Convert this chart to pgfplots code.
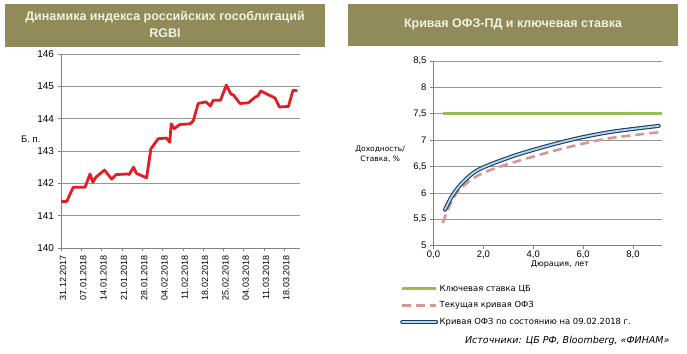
\documentclass[border=0pt]{standalone}
\usepackage{fontspec}
\setmainfont{Liberation Sans}
\newfontfamily\dejavu{DejaVu Sans}
\usepackage{pgfplots}
\pgfplotsset{compat=1.18}
\definecolor{olivebar}{RGB}{145,139,90}
\definecolor{titletext}{RGB}{242,240,224}
\definecolor{redline}{RGB}{226,30,36}
\definecolor{gridgray}{RGB}{150,150,150}
\definecolor{axisgray}{RGB}{130,130,130}
\definecolor{keygreen}{RGB}{155,187,89}
\definecolor{pinkdash}{RGB}{214,150,150}
\definecolor{navy}{RGB}{25,60,100}
\definecolor{lightblue}{RGB}{175,215,238}

\pgfplotstableread{
day val
0 141.44
2 141.44
4.2 141.88
8.3 141.88
10 142.29
11 142.03
12 142.19
15 142.41
17.5 142.13
19 142.27
23 142.29
23.5 142.27
25 142.50
26 142.31
29.5 142.17
31 143.07
33.5 143.38
36.4 143.40
37.5 143.27
38 143.84
39 143.69
41 143.82
44.5 143.84
45.6 143.93
47.3 144.47
50 144.52
51.5 144.39
52.5 144.57
55 144.57
57 145.04
58.6 144.76
59.5 144.73
61.7 144.47
64.6 144.49
67 144.67
67.8 144.70
68.9 144.86
71 144.76
73.8 144.64
75.3 144.36
78.4 144.38
80 144.88
81.5 144.86
}\rgbi

\pgfplotstableread{
x y
0.46 5.68
0.73 5.93
1.13 6.18
1.80 6.44
3.14 6.69
4.48 6.88
5.82 7.04
7.16 7.16
9.03 7.27
}\oldcurve

\pgfplotstableread{
x y
0.37 5.43
0.63 5.74
1.03 6.06
1.82 6.34
2.87 6.53
4.46 6.75
5.78 6.91
7.10 7.04
9.05 7.15
}\curcurve

\pgfplotstableread{
x y
0.37 7.5
9.15 7.5
}\keyrate

\begin{document}
\begin{tikzpicture}
\path[draw=none] (0pt,0pt) rectangle (687pt,353pt);
% title bars
\fill[olivebar] (5pt,349pt) rectangle (325pt,306pt);
\node[text=titletext,font=\fontsize{12.5}{17}\selectfont\bfseries,align=center] at (165pt,328.5pt) {Динамика индекса российских гособлигаций\\RGBI};
\fill[olivebar] (348pt,349pt) rectangle (678pt,307pt);
\node[text=titletext,font=\fontsize{12.5}{15}\selectfont\bfseries] at (513pt,329pt) {Кривая ОФЗ-ПД и ключевая ставка};

\begin{axis}[
  at={(61pt,105pt)}, anchor=south west,
  scale only axis, width=239pt, height=194pt,
  xmin=0, xmax=82.4, ymin=140, ymax=146,
  axis lines*=left,
  axis line style={axisgray, line width=0.6pt},
  ymajorgrids, grid style={gridgray, line width=0.6pt},
  tick align=outside, major tick length=3.5pt,
  tick style={axisgray, line width=0.6pt},
  xtick={0,7,...,77},
  xticklabels={31.12.2017,07.01.2018,14.01.2018,21.01.2018,28.01.2018,04.02.2018,11.02.2018,18.02.2018,25.02.2018,04.03.2018,11.03.2018,18.03.2018},
  xticklabel style={rotate=90, anchor=east, yshift=-2pt, font=\fontsize{9}{10}\selectfont},
  ytick={140,141,...,146},
  yticklabel style={font=\fontsize{10}{12}\selectfont},
  /pgf/number format/assume math mode=true,
  /pgf/number format/1000 sep={},
  ylabel={Б. п.},
  ylabel style={rotate=-90, at={(axis description cs:-0.126,0.562)}, anchor=center, font=\fontsize{9.5}{11}\selectfont},
  clip=false,
]
\addplot[redline, line width=2.8pt, line join=round] table[x=day,y=val] {\rgbi};
\end{axis}

\begin{axis}[
  at={(433.5pt,107.3pt)}, anchor=south west,
  scale only axis, width=228.2pt, height=184.7pt,
  xmin=0, xmax=9.15, ymin=5, ymax=8.5,
  axis lines*=left,
  axis line style={axisgray, line width=0.6pt},
  ymajorgrids, grid style={gridgray, line width=0.6pt},
  tick align=outside, major tick length=3.5pt,
  tick style={axisgray, line width=0.6pt},
  xtick={0,2,4,6,8},
  ytick={5,5.5,...,8.5},
  /pgf/number format/assume math mode=true,
  /pgf/number format/use comma,
  xticklabel={\pgfmathprintnumber[fixed,fixed zerofill,precision=1,use comma]{\tick}},
  xticklabel style={yshift=1.5pt, font=\fontsize{9.5}{11}\selectfont},
  yticklabel style={font=\fontsize{9.5}{11}\selectfont},
  xlabel={Дюрация, лет},
  xlabel style={at={(axis description cs:0.554,-0.103)}, anchor=center, font=\dejavu\fontsize{8}{10}\selectfont},
  ylabel={Доходность/\\Ставка, \%},
  ylabel style={rotate=-90, align=center, at={(axis description cs:-0.234,0.4965)}, anchor=center, font=\dejavu\fontsize{7.5}{10.5}\selectfont},
  legend style={at={(axis description cs:-0.1468,-0.203)}, anchor=north west, draw=none, fill=none,
    font=\dejavu\fontsize{8.4}{10}\selectfont, row sep=6pt, inner sep=0pt,
    nodes={inner sep=1.5pt}},
  legend cell align=left,
  legend image code/.code={\draw[#1] (0pt,0pt) -- (34pt,0pt);},
  clip=false,
]
\addplot[keygreen, line width=3pt] table[x=x,y=y] {\keyrate};
\addlegendentry{Ключевая ставка ЦБ}
\addplot[pinkdash, line width=2.6pt, dash pattern=on 9pt off 5pt, smooth] table[x=x,y=y] {\curcurve};
\addlegendentry{Текущая кривая ОФЗ}
\addplot[navy, line width=1.1pt, double=lightblue, double distance=1.8pt, smooth, line cap=round] table[x=x,y=y] {\oldcurve};
\addlegendentry{Кривая ОФЗ по состоянию на 09.02.2018 г.}
\end{axis}

\node[anchor=east, font=\dejavu\itshape\fontsize{9.5}{11}\selectfont] at (673pt,12pt) {Источники: ЦБ РФ, Bloomberg, «ФИНАМ»};
\end{tikzpicture}
\end{document}
